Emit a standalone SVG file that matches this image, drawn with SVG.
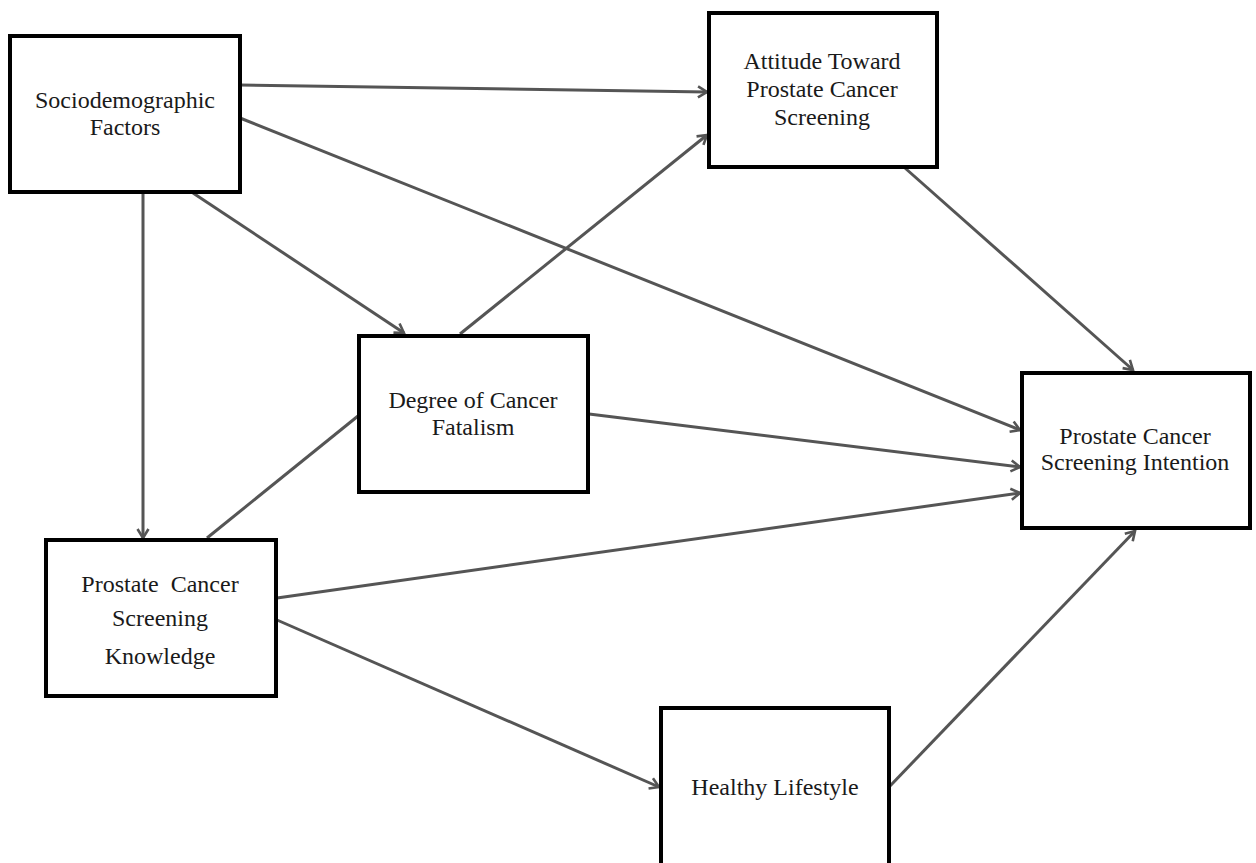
<svg xmlns="http://www.w3.org/2000/svg" width="1256" height="863" viewBox="0 0 1256 863">
<style>
.box{fill:#fff;stroke:#000;stroke-width:4}
.lbl{font-family:"Liberation Serif","Times New Roman",serif;font-size:24px;fill:#1a1a1a;text-anchor:middle}
.conn{stroke:#555;stroke-width:3;fill:none}
.arr{marker-end:url(#ah)}
</style>
<defs>
<marker id="ah" markerUnits="userSpaceOnUse" markerWidth="16" markerHeight="16" refX="11" refY="7" orient="auto">
<path d="M2,1.5 L11,7 L2,12.5" fill="none" stroke="#555" stroke-width="2.6" stroke-linejoin="miter"/>
</marker>
</defs>
<rect width="1256" height="863" fill="#fff"/>
<g id="connectors">
<line class="conn arr" x1="240" y1="85" x2="707" y2="92"/>
<line class="conn arr" x1="240" y1="118" x2="1020" y2="430"/>
<line class="conn arr" x1="193" y1="193" x2="404" y2="333"/>
<line class="conn arr" x1="143" y1="193" x2="143" y2="538"/>
<line class="conn arr" x1="460" y1="334" x2="707" y2="135"/>
<line class="conn arr" x1="589" y1="414" x2="1020" y2="467"/>
<line class="conn" x1="207" y1="538" x2="358" y2="416"/>
<line class="conn arr" x1="277" y1="598" x2="1020" y2="493"/>
<line class="conn arr" x1="277" y1="620" x2="659" y2="787"/>
<line class="conn arr" x1="890" y1="786" x2="1135" y2="531"/>
<line class="conn arr" x1="905" y1="168" x2="1133" y2="370"/>
</g>
<g id="sociodemographic">
<rect class="box" x="10" y="36" width="230" height="156"/>
<text class="lbl" x="125" y="108">Sociodemographic</text>
<text class="lbl" x="125" y="135">Factors</text>
</g>
<g id="attitude">
<rect class="box" x="709" y="13" width="228" height="154"/>
<text class="lbl" x="822" y="69">Attitude Toward</text>
<text class="lbl" x="822" y="97">Prostate Cancer</text>
<text class="lbl" x="822" y="125">Screening</text>
</g>
<g id="intention">
<rect class="box" x="1022" y="373" width="228" height="155"/>
<text class="lbl" x="1135" y="444">Prostate Cancer</text>
<text class="lbl" x="1135" y="470">Screening Intention</text>
</g>
<g id="fatalism">
<rect class="box" x="359" y="336" width="229" height="156"/>
<text class="lbl" x="473" y="408">Degree of Cancer</text>
<text class="lbl" x="473" y="435">Fatalism</text>
</g>
<g id="knowledge">
<rect class="box" x="46" y="540" width="230" height="156"/>
<text class="lbl" x="160" y="592" xml:space="preserve">Prostate  Cancer</text>
<text class="lbl" x="160" y="626">Screening</text>
<text class="lbl" x="160" y="664">Knowledge</text>
</g>
<g id="healthy">
<rect class="box" x="661" y="708" width="228" height="170"/>
<text class="lbl" x="775" y="795">Healthy Lifestyle</text>
</g>
</svg>
